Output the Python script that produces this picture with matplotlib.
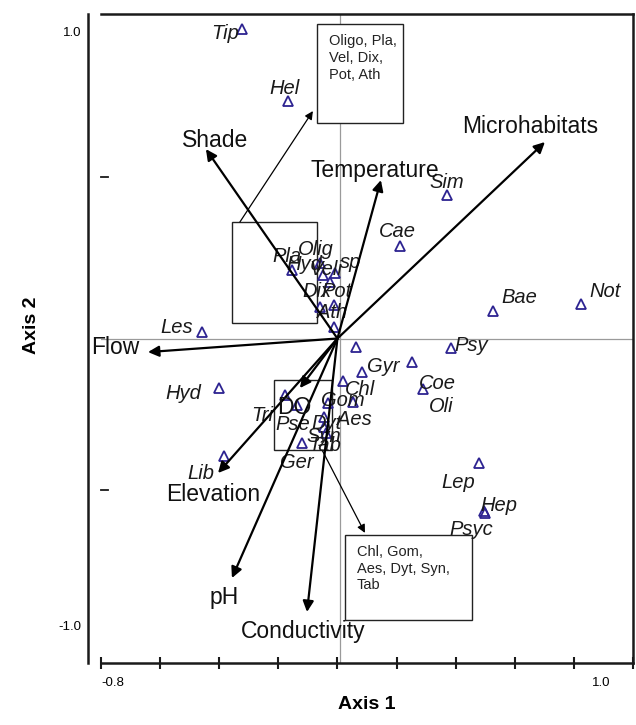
import numpy as np
import matplotlib.pyplot as plt
from matplotlib.patches import Rectangle

plt.rcParams['font.family'] = ['Liberation Sans', 'DejaVu Sans']

# species scores on the two ordination axes
species = ['Tip', 'Hel', 'Sim', 'Cae', 'Bae', 'Not', 'Les', 'Psy', 'Hyd',
           'Lib', 'Pla', 'Olig', 'Hyd', 'Veli', 'sp', 'Dix', 'Pot', 'Ath',
           '', 'Gyr', 'Chl', 'Tri', 'Pse', 'Gom', 'Aes', 'Dyt', 'Syn',
           'Tab', 'Ger', 'Coe', 'Oli', 'Lep', 'Hep', 'Psyc']
sp_x = [-0.323, -0.167, 0.370, 0.211, 0.526, 0.824, -0.458, 0.384, -0.401,
        -0.384, -0.155, -0.059, -0.049, -0.025, -0.008, -0.059, -0.011, -0.012,
        0.063, 0.082, 0.018, -0.178, -0.138, -0.031, 0.053, -0.045, -0.045,
        -0.039, -0.121, 0.252, 0.288, 0.479, 0.496, 0.500]
sp_y = [1.049, 0.804, 0.486, 0.314, 0.093, 0.117, 0.022, -0.032, -0.168,
        -0.398, 0.232, 0.256, 0.215, 0.193, 0.222, 0.107, 0.114, 0.040,
        -0.028, -0.114, -0.143, -0.192, -0.225, -0.220, -0.214, -0.265, -0.301,
        -0.320, -0.353, -0.080, -0.172, -0.422, -0.585, -0.590]
# label offsets from the marker, in pixels
lab_dx = [-17, -4, 0, -2, 26, 24, -25, 20, -36,
          -23, -5, -4, -19, -4, 16, -3, 2, -2,
          0, 22, 17, -23, -4, 15, 1, 2, 0,
          -1, -5, 25, 19, -21, 15, -14]
lab_dy = [-4, 13, 13, 14, 14, 12, 5, 2, -5,
          -18, 14, 13, 11, 12, 11, 15, 13, 14,
          0, 6, -9, -20, -20, 3, -18, -7, -9,
          -13, -20, -21, -17, -20, 6, -17]

# environmental vectors (biplot)
vectors = ['Shade', 'Temperature', 'Microhabitats', 'Flow', 'Elevation',
           'pH', 'Conductivity', 'DO']
vec_x = [-0.445, 0.147, 0.702, -0.641, -0.404, -0.357, -0.103, -0.127]
vec_y = [0.642, 0.537, 0.666, -0.046, -0.456, -0.812, -0.927, -0.168]
vec_dx = [9, -6, -15, -33, -5, -8, -4, -6]
vec_dy = [9, 10, 16, 5, -21, -19, -20, -19]

# group boxes: (x0, x1, y0, y1)
group_boxes = [(-0.357, -0.069, 0.053, 0.395),
               (-0.215, -0.019, -0.378, -0.141)]
note_boxes = [(-0.069, 0.222, 0.731, 1.066),
              (0.025, 0.455, -0.954, -0.666)]
note_texts = ['Oligo, Pla,\nVel, Dix,\nPot, Ath',
              'Chl, Gom,\nAes, Dyt, Syn,\nTab']
# pointers from group box to note box
ptr_from = [(-0.330, 0.395), (-0.052, -0.378)]
ptr_to = [(-0.083, 0.771), (0.093, -0.659)]

fig = plt.figure(figsize=(6.36, 7.25), dpi=100)
ax = fig.add_axes([101 / 636, 1 - 663 / 725, 532 / 636, 649 / 725])
ax.set_xlim(-0.8, 1.0)
ax.set_ylim(-1.1, 1.1)

ax.axhline(0, color='#9a9a9a', lw=0.9, zorder=0)
ax.axvline(0.008, color='#9a9a9a', lw=0.9, zorder=0)

# species markers and names
ax.plot(sp_x, sp_y, ls='none', marker='^', ms=7.5, mfc='none',
        mec='#2d2391', mew=1.3, zorder=3)
for name, x, y, dx, dy in zip(species, sp_x, sp_y, lab_dx, lab_dy):
    if name:
        ax.annotate(name, (x, y), xytext=(dx, dy), textcoords='offset pixels',
                    ha='center', va='center', fontsize=14.5, style='italic',
                    color='#1a1a1a', zorder=4)

# vectors
for name, x, y, dx, dy in zip(vectors, vec_x, vec_y, vec_dx, vec_dy):
    ax.annotate('', xy=(x, y), xytext=(0, 0),
                arrowprops=dict(arrowstyle='-|>', color='black', lw=1.6,
                                mutation_scale=16, shrinkA=0, shrinkB=0),
                zorder=5)
    ax.annotate(name, (x, y), xytext=(dx, dy), textcoords='offset pixels',
                ha='center', va='center', fontsize=16.5, color='#111111',
                zorder=6)

# boxes and notes
for x0, x1, y0, y1 in group_boxes:
    ax.add_patch(Rectangle((x0, y0), x1 - x0, y1 - y0, fill=False,
                           ec='#222222', lw=1.0, zorder=2))
for (x0, x1, y0, y1), txt in zip(note_boxes, note_texts):
    ax.add_patch(Rectangle((x0, y0), x1 - x0, y1 - y0, fc='white',
                           ec='#222222', lw=1.0, zorder=2))
    ax.annotate(txt, (x0, y1), xytext=(12, -10), textcoords='offset pixels',
                ha='left', va='top', fontsize=10.5, linespacing=1.25,
                color='#222222', zorder=3)
for (xa, ya), (xb, yb) in zip(ptr_from, ptr_to):
    ax.annotate('', xy=(xb, yb), xytext=(xa, ya),
                arrowprops=dict(arrowstyle='-|>', color='black', lw=0.9,
                                mutation_scale=12, shrinkA=0, shrinkB=0),
                zorder=2)

# frame in the PC-ORD style
for side in ['top', 'right', 'bottom', 'left']:
    ax.spines[side].set_linewidth(1.8)
    ax.spines[side].set_color('#1a1a1a')
ax.spines['left'].set_position(('outward', 9.5))
ax.set_yticks([])
ax.set_xticks(np.linspace(-0.8, 1.0, 10))
ax.set_xticklabels([])
ax.tick_params(axis='x', direction='inout', length=8, width=1.5,
               color='#1a1a1a')

ax.text(0.0, -0.031, '-0.8', transform=ax.transAxes, ha='left',
        va='center', fontsize=9.5)
ax.text(0.957, -0.031, '1.0', transform=ax.transAxes, ha='right',
        va='center', fontsize=9.5)
ax.text(-0.036, 0.970, '1.0', transform=ax.transAxes, ha='right',
        va='center', fontsize=9.5)
ax.text(-0.036, 0.055, '-1.0', transform=ax.transAxes, ha='right',
        va='center', fontsize=9.5)
for yf in [0.749, 0.266]:
    ax.plot([0.0, 0.013], [yf, yf], transform=ax.transAxes, color='#1a1a1a',
            lw=1.3, clip_on=False)

ax.set_xlabel('Axis 1', fontsize=14, fontweight='bold', labelpad=16)
fig.text(32 / 636, 1 - 325 / 725, 'Axis 2', rotation=90, ha='center',
         va='center', fontsize=14, fontweight='bold')

fig.savefig('out.png', dpi=100)
